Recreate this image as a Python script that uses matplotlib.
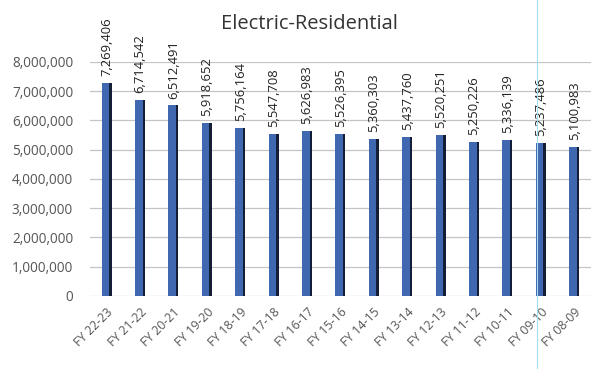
import matplotlib
matplotlib.use("Agg")
import matplotlib.pyplot as plt
from matplotlib.ticker import FuncFormatter, MultipleLocator
from matplotlib.lines import Line2D

categories = ["FY 22-23", "FY 21-22", "FY 20-21", "FY 19-20", "FY 18-19", "FY 17-18",
              "FY 16-17", "FY 15-16", "FY 14-15", "FY 13-14", "FY 12-13", "FY 11-12",
              "FY 10-11", "FY 09-10", "FY 08-09"]
values = [7269406, 6714542, 6512491, 5918652, 5756164, 5547708, 5626983, 5526395,
          5360303, 5437760, 5520251, 5250226, 5336139, 5237486, 5100983]
title = "Electric-Residential"

plt.rcParams['font.family'] = ['Open Sans', 'DejaVu Sans']

fig = plt.figure(figsize=(5.95, 3.69), dpi=100)
ax = fig.add_axes([0.151, 0.198, 0.842, 0.634])

x = list(range(len(categories)))
bw = 0.3
ax.bar(x, values, width=bw, color='#3f68b0', linewidth=0, zorder=3)
ax.bar([xi + bw / 2 - 0.035 for xi in x], values, width=0.07, color='#141e36', linewidth=0, zorder=4)

ax.set_xlim(-0.5, len(categories) - 0.5)
ax.set_ylim(0, 8000000)
ax.yaxis.set_major_locator(MultipleLocator(1000000))
ax.yaxis.set_major_formatter(FuncFormatter(lambda v, p: f"{int(v):,}"))
ax.grid(axis='y', color='#c4c4c4', linewidth=0.9, zorder=0)
for s in ax.spines.values():
    s.set_visible(False)
ax.tick_params(axis='both', length=0, colors='#555555')
ax.tick_params(axis='y', pad=12, labelsize=9.8)
ax.set_xticks(x)
ax.set_xticklabels(categories, rotation=45, ha='right', rotation_mode='anchor', fontsize=8.8)
ax.tick_params(axis='x', pad=7)

for xi, v in zip(x, values):
    ax.annotate(f"{v:,}", (xi, v), xytext=(0, 5), textcoords='offset points',
                rotation=90, ha='center', va='bottom', fontsize=9.4, color='#222222',
                annotation_clip=False)

fig.text(0.52, 0.935, title, ha='center', va='center', fontsize=14.5, color='#333333')

fig.add_artist(Line2D([537/595, 537/595], [0, 1], color='#a8dcf0', linewidth=0.8))

fig.savefig("out.png", dpi=100, facecolor='white')
